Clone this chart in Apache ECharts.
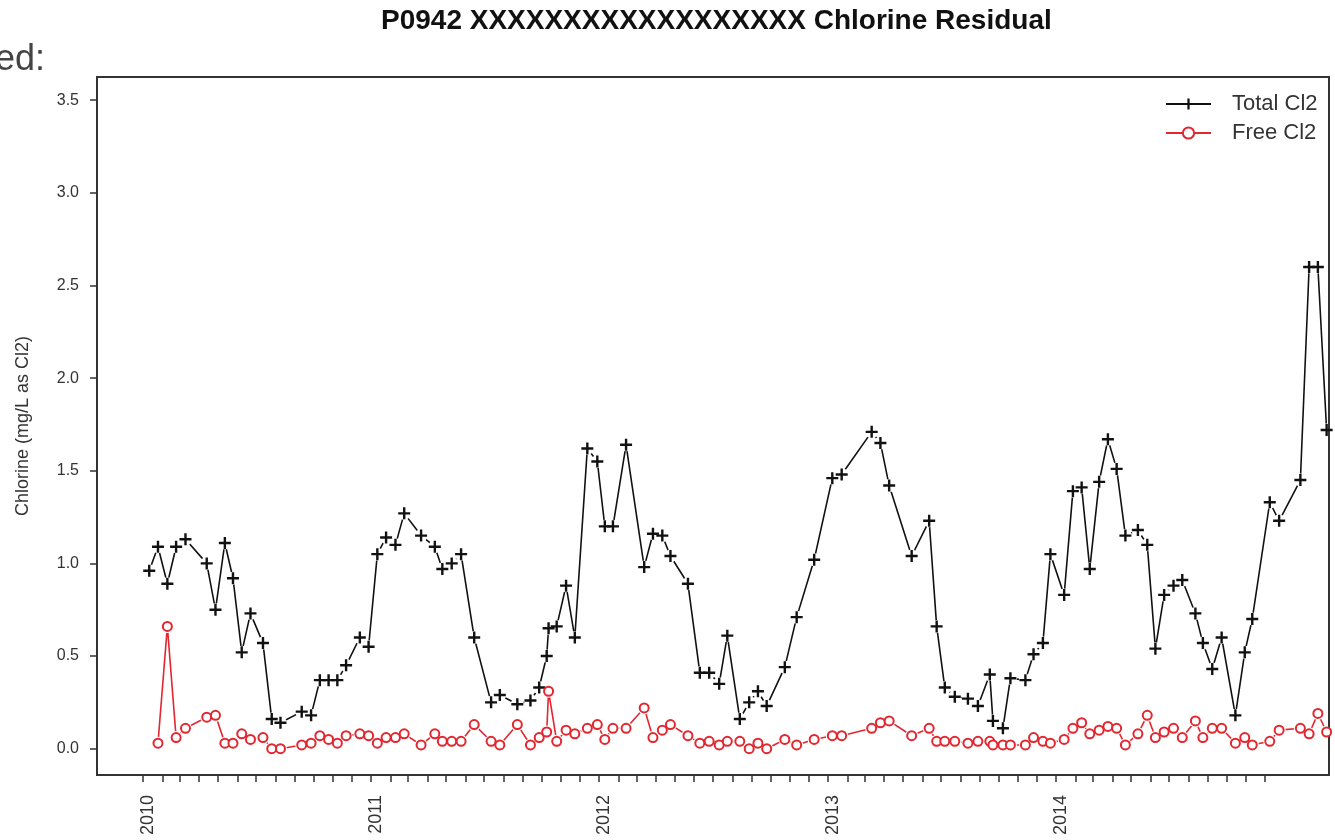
<!DOCTYPE html>
<html>
<head>
<meta charset="utf-8">
<title>P0942 Chlorine Residual</title>
<script src="https://cdn.jsdelivr.net/npm/echarts@6/dist/echarts.min.js"></script>
<style>
  html, body { margin: 0; padding: 0; background: #fff; }
  #chart { width: 1335px; height: 840px; }
</style>
</head>
<body>
<div id="chart"></div>
<script>
// sample dates (roughly every two weeks)
const sampleDates = [
  '2010-01-11','2010-01-25','2010-02-09','2010-02-23','2010-03-10','2010-04-13','2010-04-27','2010-05-12','2010-05-25','2010-06-08','2010-06-22','2010-07-12','2010-07-26','2010-08-09','2010-09-12','2010-09-27','2010-10-11','2010-10-25','2010-11-08','2010-11-22','2010-12-14','2010-12-28',
  '2011-01-11','2011-01-25','2011-02-09','2011-02-23','2011-03-22','2011-04-13','2011-04-25','2011-05-10','2011-05-25','2011-06-15','2011-07-12','2011-07-26','2011-08-23','2011-09-13','2011-09-27','2011-10-09','2011-10-12','2011-10-25','2011-11-09','2011-11-23','2011-12-13','2011-12-29',
  '2012-01-10','2012-01-23','2012-02-13','2012-03-13','2012-03-27','2012-04-11','2012-04-24','2012-05-22','2012-06-10','2012-06-25','2012-07-11','2012-07-24','2012-08-13','2012-08-28','2012-09-11','2012-09-25','2012-10-24','2012-11-12','2012-12-10',
  '2013-01-08','2013-01-23','2013-03-12','2013-03-26','2013-04-09','2013-05-15','2013-06-12','2013-06-24','2013-07-07','2013-07-23','2013-08-13','2013-08-29','2013-09-17','2013-09-22','2013-10-08','2013-10-20','2013-11-13','2013-11-26','2013-12-11','2013-12-23',
  '2014-01-14','2014-01-28','2014-02-11','2014-02-24','2014-03-11','2014-03-25','2014-04-08','2014-04-22','2014-05-12','2014-05-27','2014-06-09','2014-06-23','2014-07-08','2014-07-22','2014-08-12','2014-08-24','2014-09-08','2014-09-23','2014-10-15','2014-10-30','2014-11-11','2014-12-09','2014-12-24',
  '2015-01-27','2015-02-10','2015-02-24','2015-03-10'
]

const totalCl2 = [
  0.96, 1.09, 0.89, 1.09, 1.13, 1.00, 0.75, 1.11, 0.92, 0.52, 0.73, 0.57, 0.16, 0.14, 0.20, 0.18, 0.37, 0.37, 0.37, 0.45, 0.60, 0.55,
  1.05, 1.14, 1.10, 1.27, 1.15, 1.09, 0.97, 1.00, 1.05, 0.60, 0.25, 0.29, 0.24, 0.26, 0.33, 0.50, 0.65, 0.66, 0.88, 0.60, 1.62, 1.55,
  1.20, 1.20, 1.64, 0.98, 1.16, 1.15, 1.04, 0.89, 0.41, 0.41, 0.35, 0.61, 0.16, 0.25, 0.31, 0.23, 0.44, 0.71, 1.02,
  1.46, 1.48, 1.71, 1.65, 1.42, 1.04, 1.23, 0.66, 0.33, 0.28, 0.27, 0.23, 0.40, 0.15, 0.11, 0.38, 0.37, 0.51, 0.57, 1.05,
  0.83, 1.39, 1.41, 0.97, 1.44, 1.67, 1.51, 1.15, 1.18, 1.10, 0.54, 0.83, 0.88, 0.91, 0.73, 0.57, 0.43, 0.60, 0.18, 0.52, 0.70, 1.33, 1.23,
  1.45, 2.60, 2.60, 1.72
]

const freeCl2 = [
  null, 0.03, 0.66, 0.06, 0.11, 0.17, 0.18, 0.03, 0.03, 0.08, 0.05, 0.06, 0.00, 0.00, 0.02, 0.03, 0.07, 0.05, 0.03, 0.07, 0.08, 0.07,
  0.03, 0.06, 0.06, 0.08, 0.02, 0.08, 0.04, 0.04, 0.04, 0.13, 0.04, 0.02, 0.13, 0.02, 0.06, 0.09, 0.31, 0.04, 0.10, 0.08, 0.11, 0.13,
  0.05, 0.11, 0.11, 0.22, 0.06, 0.10, 0.13, 0.07, 0.03, 0.04, 0.02, 0.04, 0.04, 0.00, 0.03, 0.00, 0.05, 0.02, 0.05,
  0.07, 0.07, 0.11, 0.14, 0.15, 0.07, 0.11, 0.04, 0.04, 0.04, 0.03, 0.04, 0.04, 0.02, 0.02, 0.02, 0.02, 0.06, 0.04, 0.03,
  0.05, 0.11, 0.14, 0.08, 0.10, 0.12, 0.11, 0.02, 0.08, 0.18, 0.06, 0.09, 0.11, 0.06, 0.15, 0.06, 0.11, 0.11, 0.03, 0.06, 0.02, 0.04, 0.10,
  0.11, 0.08, 0.19, 0.09
]

// axis ticks
const yTicks = [0, 0.5, 1.0, 1.5, 2.0, 2.5, 3.0, 3.5]
const yearLabels = ['2010', '2011', '2012', '2013', '2014']

// dates -> local timestamps, x axis is a plain value axis in ms
const toTime = s => +new Date(s.length > 10 ? s : s + 'T00:00:00')

const monthTicks = []
for (let y = 2010; y <= 2014; y++) {
  for (let m = 0; m < 12; m++) monthTicks.push(+new Date(y, m, 1))
}
const yearTicks = yearLabels.map(y => +new Date(+y, 0, 1))

const FONT = "'Liberation Sans', Arial, Helvetica, sans-serif"
const RED = '#e3262f'
const PLUS = 'path://M4,0H6V4H10V6H6V10H4V6H0V4H4Z'

const totalData = sampleDates.map((d, i) => [toTime(d), totalCl2[i]])
const freeData = sampleDates.map((d, i) => [toTime(d), freeCl2[i]])

const chart = echarts.init(document.getElementById('chart'))

chart.setOption({
  animation: false,
  backgroundColor: '#fff',
  title: {
    text: 'P0942 XXXXXXXXXXXXXXXXXX Chlorine Residual',
    left: 381,
    top: 7,
    padding: 0,
    textStyle: { fontFamily: FONT, fontSize: 28, fontWeight: 'bold', color: '#111' }
  },
  graphic: [
    {
      type: 'text',
      x: 45,
      y: 60,
      style: {
        text: 'ed:',
        fontSize: 36,
        fontFamily: FONT,
        fill: '#444',
        textAlign: 'right',
        textVerticalAlign: 'middle',
        align: 'right',
        verticalAlign: 'middle'
      }
    }
  ],
  legend: {
    orient: 'vertical',
    left: 1165,
    top: 93,
    padding: 0,
    itemWidth: 45,
    itemHeight: 14,
    itemGap: 7,
    data: ['Total Cl2', 'Free Cl2'],
    textStyle: { fontFamily: FONT, fontSize: 22, color: '#333', padding: [0, 0, 0, 16] }
  },
  grid: {
    left: 97,
    top: 77,
    right: 6,
    bottom: 65,
    show: true,
    z: 4,
    borderColor: '#333',
    borderWidth: 2,
    backgroundColor: 'transparent'
  },
  xAxis: {
    type: 'value',
    min: toTime('2009-10-19T10:00:00'),
    max: toTime('2015-03-13T19:00:00'),
    axisLine: { show: false, onZero: false },
    axisTick: {
      show: true,
      length: 7,
      customValues: monthTicks,
      lineStyle: { color: '#333', width: 1.5 }
    },
    axisLabel: {
      customValues: yearTicks,
      rotate: 90,
      margin: 20,
      verticalAlign: 'top',
      lineHeight: 10,
      fontFamily: FONT,
      fontSize: 18,
      color: '#333',
      formatter: v => String(new Date(v).getFullYear())
    },
    splitLine: { show: false }
  },
  yAxis: {
    type: 'value',
    min: -0.142,
    max: 3.625,
    name: 'Chlorine (mg/L as Cl2)',
    nameLocation: 'middle',
    nameGap: 65,
    nameTextStyle: { fontFamily: FONT, fontSize: 18, color: '#333' },
    axisLine: { show: false, onZero: false },
    axisTick: {
      show: true,
      length: 7,
      customValues: yTicks,
      lineStyle: { color: '#333', width: 1.5 }
    },
    axisLabel: {
      customValues: yTicks,
      margin: 18,
      fontFamily: FONT,
      fontSize: 16,
      color: '#333',
      formatter: v => v.toFixed(1)
    },
    splitLine: { show: false }
  },
  series: [
    {
      name: 'Total Cl2',
      type: 'line',
      data: totalData,
      z: 2,
      symbol: PLUS,
      symbolSize: 11,
      showSymbol: false,
      itemStyle: { color: '#111' },
      lineStyle: { color: '#111', width: 1.6 },
      emphasis: { disabled: true }
    },
    {
      name: 'Free Cl2',
      type: 'line',
      data: freeData,
      z: 2,
      symbol: 'emptyCircle',
      symbolSize: 9,
      showSymbol: false,
      itemStyle: { color: RED, borderColor: RED, borderWidth: 1.5 },
      lineStyle: { color: RED, width: 1.6 },
      emphasis: { disabled: true }
    },
    // white discs that open small gaps in the lines around each point (like R type = "b")
    {
      name: 'gap-total',
      type: 'scatter',
      data: totalData,
      z: 3,
      silent: true,
      symbol: 'circle',
      symbolSize: 13,
      itemStyle: { color: '#fff', opacity: 1 }
    },
    {
      name: 'gap-free',
      type: 'scatter',
      data: freeData,
      z: 3,
      silent: true,
      symbol: 'circle',
      symbolSize: 13,
      itemStyle: { color: '#fff', opacity: 1 }
    },
    {
      name: 'Total Cl2',
      type: 'scatter',
      data: totalData,
      z: 5,
      symbol: PLUS,
      symbolSize: 12,
      itemStyle: { color: '#111', opacity: 1 },
      emphasis: { disabled: true }
    },
    {
      name: 'Free Cl2',
      type: 'scatter',
      data: freeData,
      z: 5,
      symbol: 'emptyCircle',
      symbolSize: 9,
      itemStyle: { color: RED, borderColor: RED, borderWidth: 1.5, opacity: 1 },
      emphasis: { disabled: true }
    }
  ]
})
</script>
</body>
</html>
